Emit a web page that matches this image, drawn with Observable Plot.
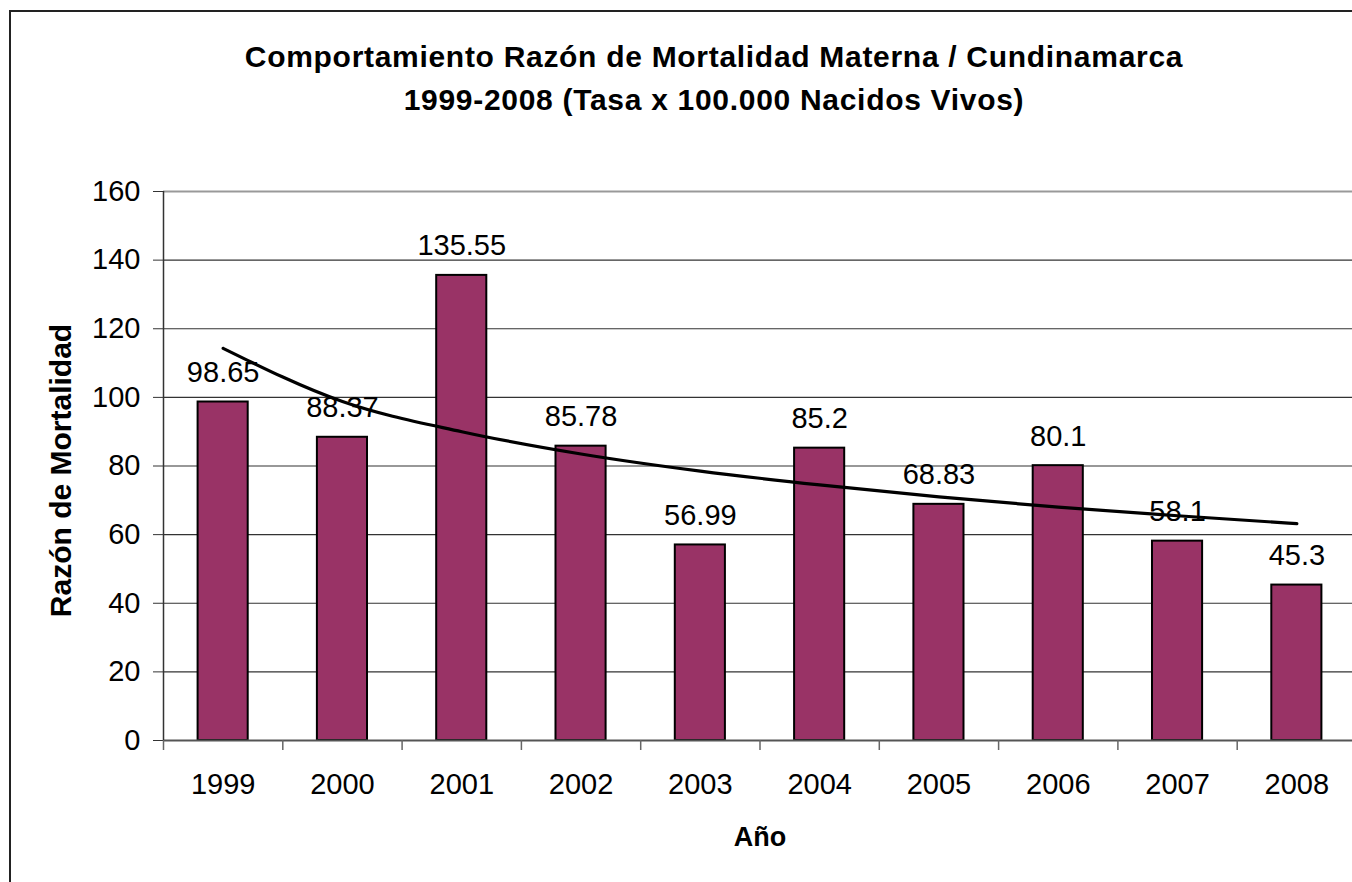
<!DOCTYPE html>
<html>
<head>
<meta charset="utf-8">
<script src="https://cdn.jsdelivr.net/npm/d3@7"></script>
<script src="https://cdn.jsdelivr.net/npm/@observablehq/plot@0.6"></script>
<style>
  html, body { margin: 0; padding: 0; background: #fff; overflow: hidden; }
  #wrap { position: relative; width: 1352px; height: 882px; overflow: hidden; background: #fff; }
  #frame { position: absolute; left: 9px; top: 10px; width: 1400px; height: 900px; border-left: 2px solid #222; border-top: 2px solid #222; }
  #chart { position: absolute; left: 0; top: 0; width: 1370px; height: 882px; }
  #chart svg { max-width: none !important; width: 1370px; height: 882px; }
  #title { position: absolute; left: 0; top: 35px; width: 1428px; text-align: center;
           font-family: "Liberation Sans", Arial, sans-serif; font-weight: bold; font-size: 30px; letter-spacing: 0.7px; line-height: 43px; color: #000; }
</style>
</head>
<body>
<div id="wrap">
  <div id="frame"></div>
  <div id="chart"></div>
  <div id="title">Comportamiento Razón de Mortalidad Materna / Cundinamarca<br>1999-2008 (Tasa x 100.000 Nacidos Vivos)</div>
</div>
<script>
const years = [1999, 2000, 2001, 2002, 2003, 2004, 2005, 2006, 2007, 2008];
const values = [98.65, 88.37, 135.55, 85.78, 56.99, 85.2, 68.83, 80.1, 58.1, 45.3];
const valueLabels = ["98.65", "88.37", "135.55", "85.78", "56.99", "85.2", "68.83", "80.1", "58.1", "45.3"];
const trend = [114.3, 98.8, 90.0, 83.5, 78.5, 74.5, 71.0, 68.0, 65.5, 63.2];
const yTicks = [0, 20, 40, 60, 80, 100, 120, 140, 160];
const categoryBounds = [1998.5, 1999.5, 2000.5, 2001.5, 2002.5, 2003.5, 2004.5, 2005.5, 2006.5, 2007.5, 2008.5];
const xTitle = "Año";
const yTitle = "Razón de Mortalidad";

const data = years.map((year, i) => ({year, value: values[i], label: valueLabels[i], trend: trend[i]}));
const halfBar = 0.21;

const chart = Plot.plot({
  width: 1370,
  height: 882,
  marginLeft: 163,
  marginRight: 14,
  marginTop: 191,
  marginBottom: 142,
  style: {fontFamily: '"Liberation Sans", Arial, sans-serif', background: "transparent", color: "#000", maxWidth: "none"},
  x: {type: "linear", domain: [categoryBounds[0], categoryBounds[categoryBounds.length - 1]], axis: null},
  y: {domain: [0, 160], axis: null},
  marks: [
    Plot.ruleY(yTicks.filter(d => d > 0 && d < 160), {stroke: "#333", strokeWidth: 1.2}),
    Plot.ruleY([160], {stroke: "#999", strokeWidth: 2}),
    Plot.rectY(data, {x1: d => d.year - halfBar, x2: d => d.year + halfBar, y: "value", fill: "#993366", stroke: "#000", strokeWidth: 2}),
    Plot.ruleY([0], {stroke: "#555", strokeWidth: 2}),
    Plot.ruleX([categoryBounds[0]], {y1: 0, y2: 160, stroke: "#333", strokeWidth: 1.5}),
    Plot.axisY({ticks: yTicks, tickSize: 10, tickPadding: 13, fontSize: 29, tickFormat: d => String(d), label: null, stroke: "#333"}),
    Plot.axisX({ticks: categoryBounds, tickSize: 10, tickFormat: () => "", label: null, stroke: "#666", strokeWidth: 1.5}),
    Plot.axisX({ticks: years, tickSize: 0, tickPadding: 33, fontSize: 29, tickFormat: d => String(d), label: null}),
    Plot.line(data, {x: "year", y: "trend", stroke: "#000", strokeWidth: 3.2, curve: "monotone-x"}),
    Plot.text(data, {x: "year", y: "value", text: "label", dy: -20, lineAnchor: "bottom", fontSize: 29, fill: "#000"}),
    Plot.text([xTitle], {frameAnchor: "bottom", dy: 97, lineAnchor: "middle", textAnchor: "middle", fontSize: 27, fontWeight: "bold", fill: "#000"}),
    Plot.text([yTitle], {frameAnchor: "left", dx: -102, dy: 4.5, rotate: -90, lineAnchor: "middle", textAnchor: "middle", fontSize: 30, fontWeight: "bold", fill: "#000"})
  ]
});
document.getElementById("chart").appendChild(chart);
</script>
</body>
</html>
